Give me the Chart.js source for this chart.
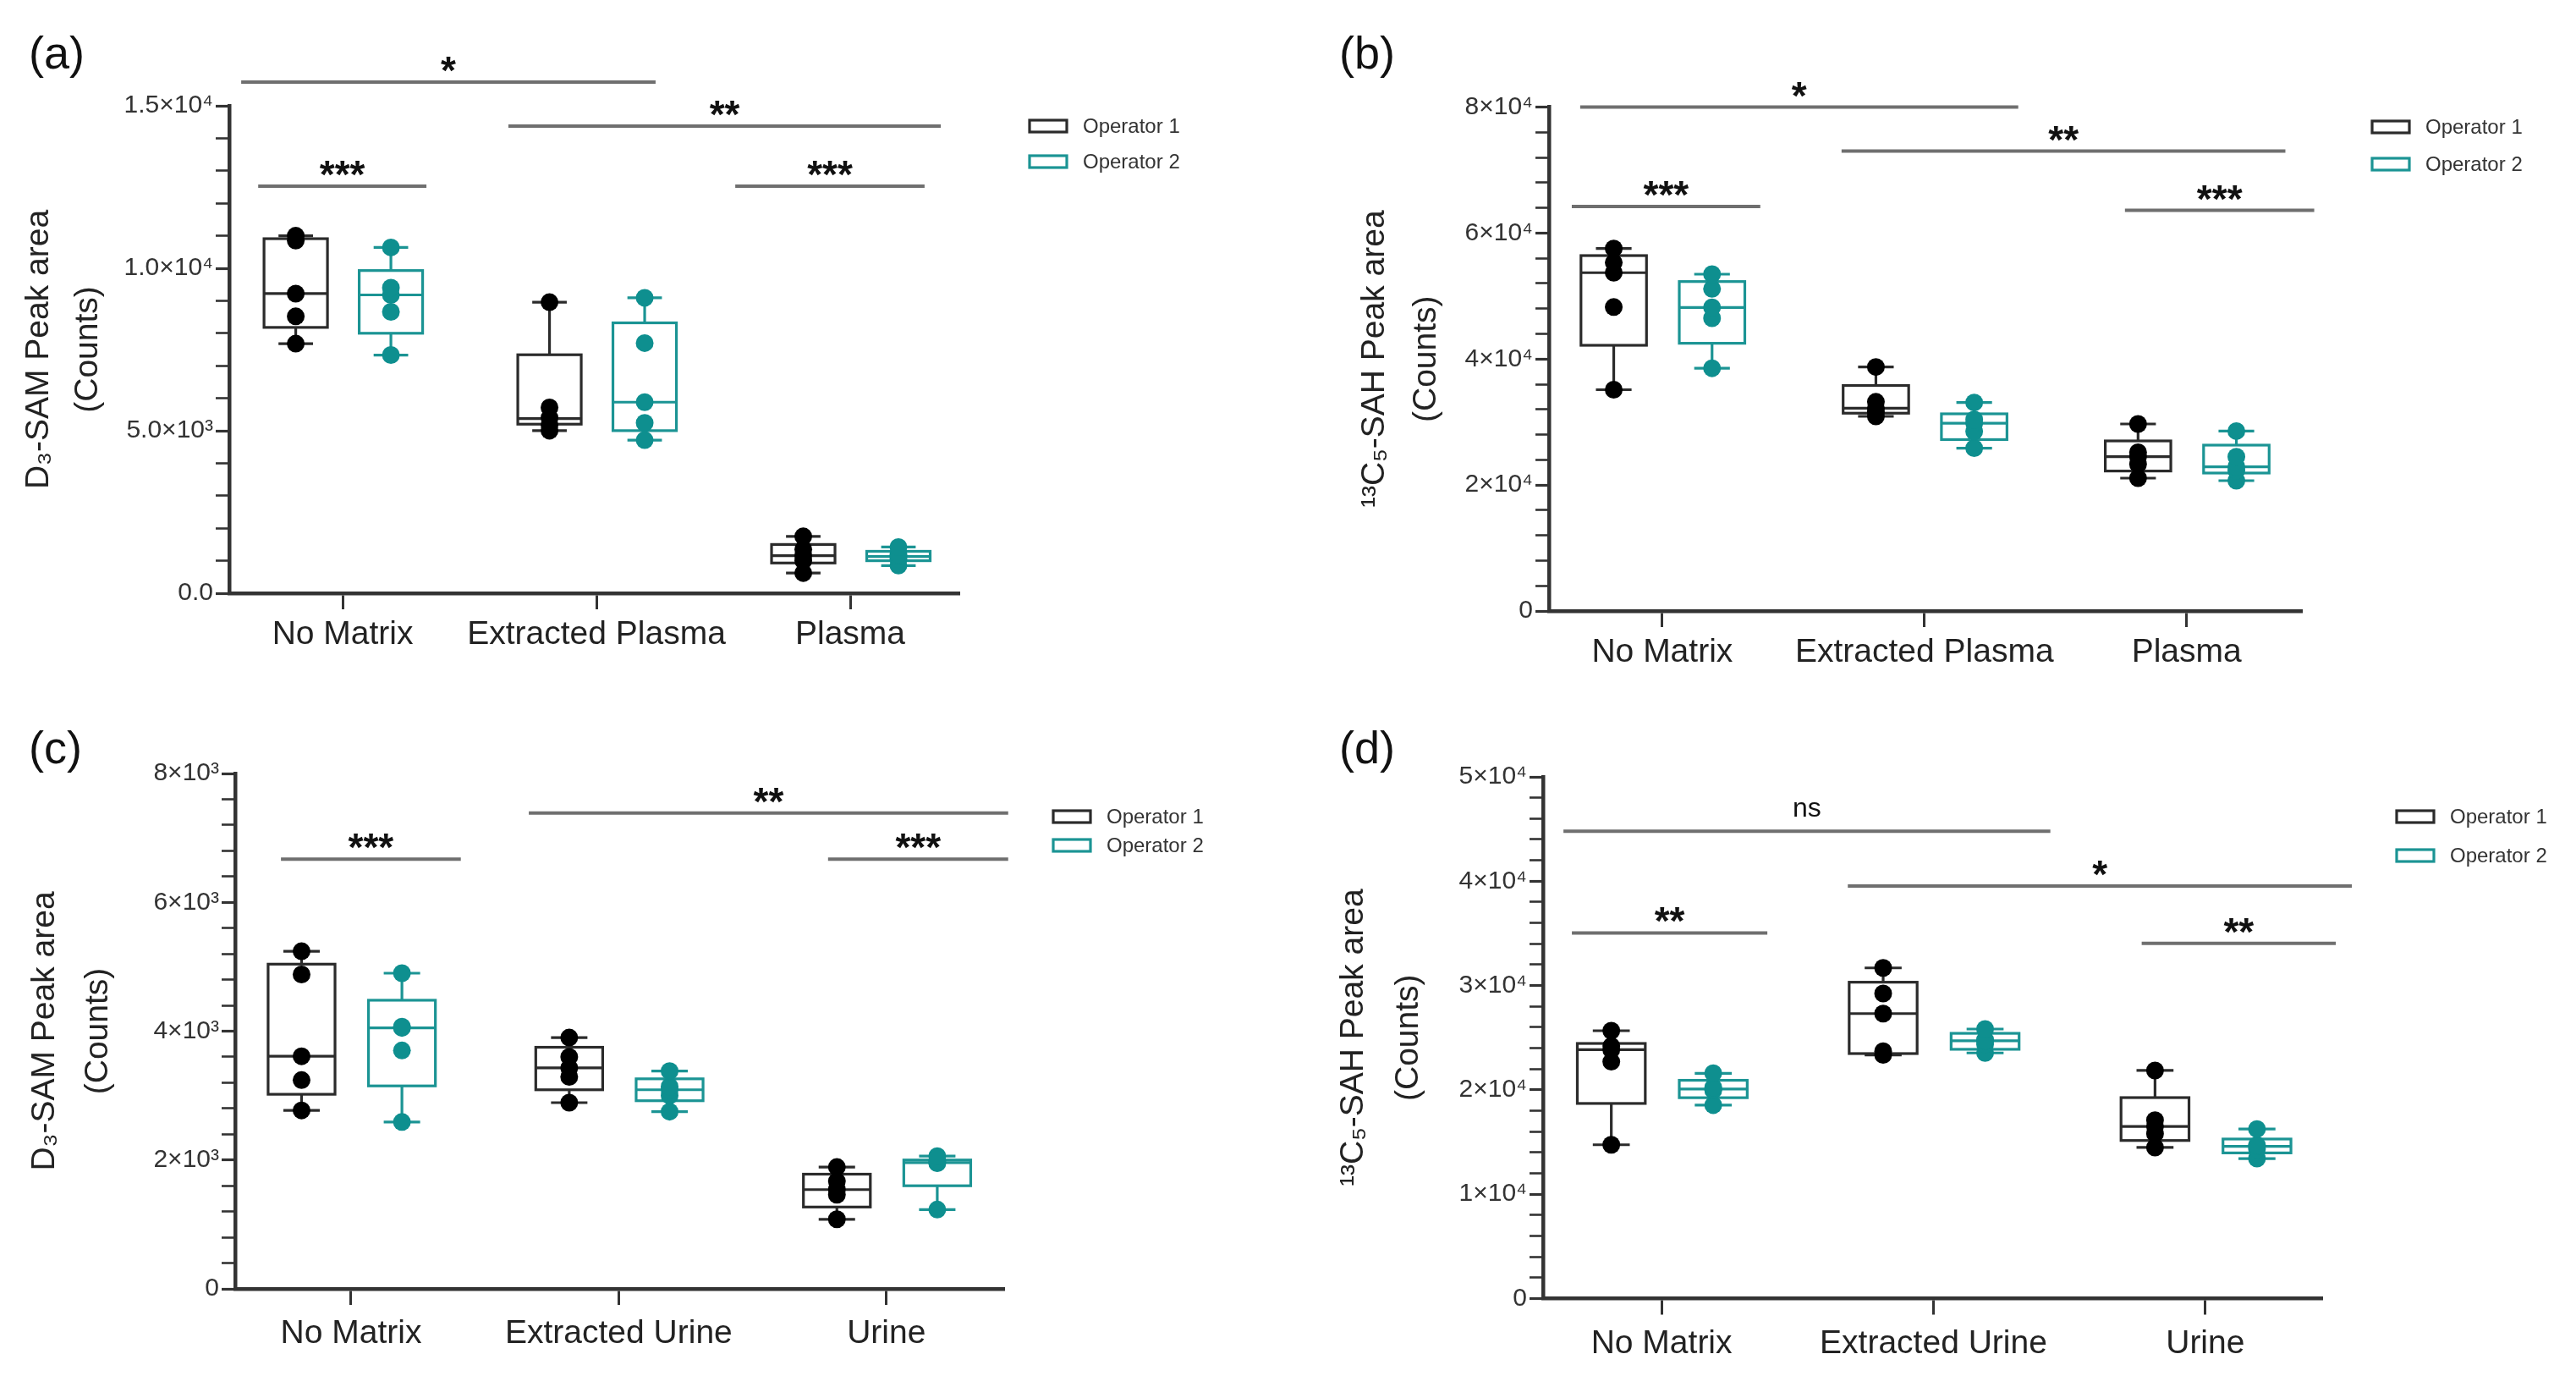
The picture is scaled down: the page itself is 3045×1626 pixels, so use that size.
<!DOCTYPE html>
<html><head><meta charset="utf-8">
<script src="https://cdn.jsdelivr.net/npm/chart.js@4.4.1/dist/chart.umd.min.js"></script>
<style>
html,body{margin:0;padding:0;background:#fff;width:3045px;height:1626px;overflow:hidden}
canvas{position:absolute}
</style></head><body>
<canvas id="ca" width="1522" height="813" style="left:0px;top:0px"></canvas>
<canvas id="cb" width="1523" height="813" style="left:1522px;top:0px"></canvas>
<canvas id="cc" width="1522" height="813" style="left:0px;top:813px"></canvas>
<canvas id="cd" width="1523" height="813" style="left:1522px;top:813px"></canvas>
<script>
// ---------------- DATA ----------------
const categoriesPlasma = ['No Matrix', 'Extracted Plasma', 'Plasma'];
const categoriesUrine = ['No Matrix', 'Extracted Urine', 'Urine'];
const seriesNames = ['Operator 1', 'Operator 2'];

// box stats per category: [min, q1, median, q3, max]
const a_op1_box = [[7680, 8180, 9220, 10910, 11000], [5003, 5202, 5374, 7338, 8957], [620, 930, 1155, 1500, 1750]];
const a_op1_points = [[7680, 8520, 9220, 10850, 11000], [5003, 5175, 5400, 5719, 8957], [620, 1000, 1155, 1350, 1750]];
const a_op2_box = [[7330, 8000, 9180, 9930, 10640], [4711, 5003, 5879, 8320, 9090], [850, 1000, 1130, 1290, 1420]];
const a_op2_points = [[7330, 8660, 9180, 9400, 10640], [4711, 5242, 5879, 7697, 9090], [850, 1050, 1130, 1200, 1420]];

const b_op1_box = [[35130, 42180, 53700, 56420, 57540], [30900, 31400, 32200, 35800, 38740], [21090, 22220, 24490, 27000, 29690]];
const b_op1_points = [[35130, 48250, 53700, 55300, 57540], [30900, 31600, 32200, 33200, 38740], [21090, 23300, 24490, 25200, 29690]];
const b_op2_box = [[38530, 42500, 48190, 52300, 53470], [25850, 27210, 29800, 31300, 33090], [20690, 21900, 22900, 26330, 28560]];
const b_op2_points = [[38530, 46480, 48190, 51140, 53470], [25850, 28500, 29800, 30400, 33090], [20690, 22300, 22900, 24500, 28560]];

const c_op1_box = [[2770, 3020, 3610, 5040, 5240], [2890, 3090, 3430, 3750, 3900], [1080, 1270, 1540, 1780, 1890]];
const c_op1_points = [[2770, 3240, 3610, 4880, 5240], [2890, 3290, 3430, 3600, 3900], [1080, 1460, 1540, 1670, 1890]];
const c_op2_box = [[2590, 3150, 4050, 4480, 4900], [2750, 2920, 3090, 3260, 3380], [1230, 1600, 1960, 2000, 2060]];
const c_op2_points = [[2590, 3700, 4050, 4070, 4900], [2750, 3000, 3090, 3140, 3380], [1230, 1950, 1960, 1990, 2060]];

const d_op1_box = [[14740, 18700, 23850, 24450, 25670], [23350, 23480, 27310, 30320, 31690], [14480, 15150, 16500, 19260, 21860]];
const d_op1_points = [[14740, 22700, 23850, 24200, 25670], [23350, 23700, 27310, 29240, 31690], [14480, 15800, 16500, 17100, 21860]];
const d_op2_box = [[18540, 19250, 20080, 20920, 21590], [23540, 23890, 24710, 25420, 25830], [13420, 13960, 14590, 15290, 16250]];
const d_op2_points = [[18540, 19960, 20080, 20250, 21590], [23540, 24380, 24710, 24800, 25830], [13420, 14330, 14590, 14700, 16250]];

// y tick labels (major ticks)
const a_tickValues = [0, 5000, 10000, 15000];
const a_tickLabels = ['0.0', '5.0×10³', '1.0×10⁴', '1.5×10⁴'];
const b_tickValues = [0, 20000, 40000, 60000, 80000];
const b_tickLabels = ['0', '2×10⁴', '4×10⁴', '6×10⁴', '8×10⁴'];
const c_tickValues = [0, 2000, 4000, 6000, 8000];
const c_tickLabels = ['0', '2×10³', '4×10³', '6×10³', '8×10³'];
const d_tickValues = [0, 10000, 20000, 30000, 40000, 50000];
const d_tickLabels = ['0', '1×10⁴', '2×10⁴', '3×10⁴', '4×10⁴', '5×10⁴'];

// significance brackets: [from category, to category, level, label]
const a_sig = [[-0.40, 1.233, 15730, '*'], [0.653, 2.357, 14375, '**'], [-0.333, 0.33, 12526, '***'], [1.547, 2.293, 12526, '***']];
const b_sig = [[-0.313, 1.358, 80000, '*'], [0.684, 2.377, 73000, '**'], [-0.345, 0.374, 64230, '***'], [1.765, 2.487, 63600, '***']];
const c_sig = [[0.664, 2.455, 7386, '**'], [-0.262, 0.41, 6670, '***'], [1.782, 2.455, 6670, '***']];
const d_sig = [[-0.361, 1.43, 44790, 'ns'], [0.685, 2.539, 39540, '*'], [-0.33, 0.389, 35040, '**'], [1.766, 2.48, 34040, '**']];

// ---------------- STYLE / LAYOUT ----------------
const FONT = '"Liberation Sans", Arial, Helvetica, sans-serif';
Chart.defaults.font.family = FONT;
Chart.defaults.color = '#222';
const COL1_LINE = '#2b2b2b', COL1_DOT = '#000000';
const COL2_LINE = '#1b9494', COL2_DOT = '#0e8f8f';
const OFFS = [-0.185, 0.19];
const BOX_HALF = 0.125, CAP_HALF = 0.068;

const panels = [
  { id: 'ca', letter: '(a)', cats: categoriesPlasma, yTitle: ['D₃-SAM Peak area', '(Counts)'],
    yMax: 15000, yStep: 1000, tickValues: a_tickValues, tickLabels: a_tickLabels,
    boxes: [a_op1_box, a_op2_box], points: [a_op1_points, a_op2_points], sig: a_sig,
    xMin: -0.447, xMax: 2.43, area: { l: 271, r: 1134, t: 125, b: 701 }, w: 1522,
    titleC: 46, titleLH: 58, legend: { x: 1217, y: [149, 191] }, letterPos: { x: 34, y: 66 }, xPad: 7 },
  { id: 'cb', letter: '(b)', cats: categoriesPlasma, yTitle: ['¹³C₅-SAH Peak area', '(Counts)'],
    yMax: 80000, yStep: 4000, tickValues: b_tickValues, tickLabels: b_tickLabels,
    boxes: [b_op1_box, b_op2_box], points: [b_op1_points, b_op2_points], sig: b_sig,
    xMin: -0.432, xMax: 2.44, area: { l: 309, r: 1199, t: 126.5, b: 722 }, w: 1523,
    titleC: 103, titleLH: 61, legend: { x: 1282, y: [150, 194] }, letterPos: { x: 61, y: 66 }, xPad: 7 },
  { id: 'cc', letter: '(c)', cats: categoriesUrine, yTitle: ['D₃-SAM Peak area', '(Counts)'],
    yMax: 8000, yStep: 400, tickValues: c_tickValues, tickLabels: c_tickLabels,
    boxes: [c_op1_box, c_op2_box], points: [c_op1_points, c_op2_points], sig: c_sig,
    xMin: -0.433, xMax: 2.44, area: { l: 278, r: 1187, t: 101, b: 710 }, w: 1522,
    titleC: 53, titleLH: 63, legend: { x: 1245, y: [152, 186] }, letterPos: { x: 34, y: 74 }, xPad: 11 },
  { id: 'cd', letter: '(d)', cats: categoriesUrine, yTitle: ['¹³C₅-SAH Peak area', '(Counts)'],
    yMax: 50000, yStep: 2000, tickValues: d_tickValues, tickLabels: d_tickLabels,
    boxes: [d_op1_box, d_op2_box], points: [d_op1_points, d_op2_points], sig: d_sig,
    xMin: -0.436, xMax: 2.43, area: { l: 302, r: 1223, t: 105, b: 721.5 }, w: 1523,
    titleC: 78, titleLH: 65, legend: { x: 1311, y: [152, 198] }, letterPos: { x: 61, y: 74 }, xPad: 11 }
];

function pointsData(pts, off) {
  const out = [];
  pts.forEach((arr, i) => arr.forEach(v => out.push({ x: i + off, y: v })));
  return out;
}

function makePlugin(p) {
  return {
    id: 'custom_' + p.id,
    beforeDatasetsDraw(chart) {
      const ctx = chart.ctx, xs = chart.scales.x, ys = chart.scales.y;
      const cols = [COL1_LINE, COL2_LINE];
      ctx.save();
      p.boxes.forEach((boxSet, k) => {
        ctx.strokeStyle = cols[k];
        ctx.lineWidth = 3.2;
        boxSet.forEach((st, i) => {
          const cx = xs.getPixelForValue(i + OFFS[k]);
          const hw = Math.abs(xs.getPixelForValue(i + OFFS[k] + BOX_HALF) - cx);
          const ch = Math.abs(xs.getPixelForValue(i + OFFS[k] + CAP_HALF) - cx);
          const py = v => ys.getPixelForValue(v);
          const [mn, q1, md, q3, mx] = st;
          ctx.beginPath();
          ctx.moveTo(cx, py(q3)); ctx.lineTo(cx, py(mx));
          ctx.moveTo(cx, py(q1)); ctx.lineTo(cx, py(mn));
          ctx.moveTo(cx - ch, py(mx)); ctx.lineTo(cx + ch, py(mx));
          ctx.moveTo(cx - ch, py(mn)); ctx.lineTo(cx + ch, py(mn));
          ctx.stroke();
          ctx.strokeRect(cx - hw, py(q3), 2 * hw, py(q1) - py(q3));
          ctx.beginPath();
          ctx.moveTo(cx - hw, py(md)); ctx.lineTo(cx + hw, py(md));
          ctx.stroke();
        });
      });
      ctx.restore();
    },
    afterDraw(chart) {
      const ctx = chart.ctx, xs = chart.scales.x, ys = chart.scales.y;
      ctx.save();
      // significance brackets
      p.sig.forEach(s => {
        const x1 = xs.getPixelForValue(s[0]), x2 = xs.getPixelForValue(s[1]);
        const y = ys.getPixelForValue(s[2]);
        ctx.strokeStyle = '#6f6f6f';
        ctx.lineWidth = 4;
        ctx.beginPath(); ctx.moveTo(x1, y); ctx.lineTo(x2, y); ctx.stroke();
        ctx.fillStyle = '#111';
        ctx.textAlign = 'center';
        ctx.textBaseline = 'alphabetic';
        if (s[3] === 'ns') {
          ctx.font = '32px ' + FONT;
          ctx.fillText(s[3], (x1 + x2) / 2, y - 17);
        } else {
          ctx.font = 'bold 46px ' + FONT;
          ctx.fillText(s[3], (x1 + x2) / 2, y + 2);
        }
      });
      // legend
      const lc = [COL1_LINE, COL2_LINE];
      seriesNames.forEach((name, k) => {
        const y = p.legend.y[k];
        ctx.strokeStyle = lc[k];
        ctx.lineWidth = 3.2;
        ctx.strokeRect(p.legend.x, y - 7, 44, 14);
        ctx.fillStyle = '#333';
        ctx.font = '24px ' + FONT;
        ctx.textAlign = 'left';
        ctx.textBaseline = 'middle';
        ctx.fillText(name, p.legend.x + 63, y + 1);
      });
      // panel letter
      ctx.fillStyle = '#111';
      ctx.font = '54px ' + FONT;
      ctx.textAlign = 'left';
      ctx.textBaseline = 'middle';
      ctx.fillText(p.letter, p.letterPos.x, p.letterPos.y);
      ctx.restore();
    }
  };
}

panels.forEach(p => {
  const yTicks = [];
  for (let v = 0; v <= p.yMax + 1e-9; v += p.yStep) yTicks.push(v);
  const cfg = {
    type: 'scatter',
    data: {
      datasets: [0, 1].map(k => ({
        label: seriesNames[k],
        data: pointsData(p.points[k], OFFS[k]),
        pointRadius: 10.5,
        pointHoverRadius: 10.5,
        pointBorderWidth: 0,
        pointBackgroundColor: k === 0 ? COL1_DOT : COL2_DOT,
        pointBorderColor: k === 0 ? COL1_DOT : COL2_DOT,
        showLine: false,
        clip: false
      }))
    },
    options: {
      responsive: false,
      animation: false,
      devicePixelRatio: 1,
      events: [],
      layout: { padding: { left: 0, right: p.w - p.area.r, top: p.area.t, bottom: 813 - p.area.b - 80 } },
      plugins: { legend: { display: false }, tooltip: { enabled: false }, title: { display: false } },
      scales: {
        x: {
          type: 'linear', min: p.xMin, max: p.xMax,
          afterBuildTicks: s => { s.ticks = p.cats.map((c, i) => ({ value: i })); },
          afterFit: s => { s.height = 80; },
          ticks: {
            autoSkip: false, maxRotation: 0, minRotation: 0, padding: p.xPad,
            color: '#222', font: { size: 39 },
            callback: v => p.cats[Math.round(v)]
          },
          grid: { display: true, drawOnChartArea: false, drawTicks: true, tickLength: 19, tickWidth: 3, tickColor: '#333' },
          border: { display: true, color: '#333', width: 4.5 }
        },
        y: {
          type: 'linear', min: 0, max: p.yMax,
          afterBuildTicks: s => { s.ticks = yTicks.map(v => ({ value: v })); },
          afterFit: s => { s.width = p.area.l; },
          ticks: {
            autoSkip: false, padding: 3, color: '#333', font: { size: 30 },
            callback: v => {
              const idx = p.tickValues.findIndex(t => Math.abs(t - v) < 1e-6);
              return idx >= 0 ? p.tickLabels[idx] : '';
            }
          },
          grid: {
            display: true, drawOnChartArea: false, drawTicks: true, tickLength: 16,
            tickWidth: c => (p.tickValues.some(t => Math.abs(t - c.tick.value) < 1e-6) ? 3.2 : 2.6),
            tickColor: '#333'
          },
          border: { display: true, color: '#333', width: 4.5 },
          title: {
            display: true, text: p.yTitle, color: '#222',
            font: { size: 39, weight: 'normal', lineHeight: p.titleLH + 'px' },
            padding: { top: p.titleC - p.titleLH / 2, bottom: 0 }
          }
        }
      }
    },
    plugins: [makePlugin(p)]
  };
  new Chart(document.getElementById(p.id), cfg);
});
</script>
</body></html>
